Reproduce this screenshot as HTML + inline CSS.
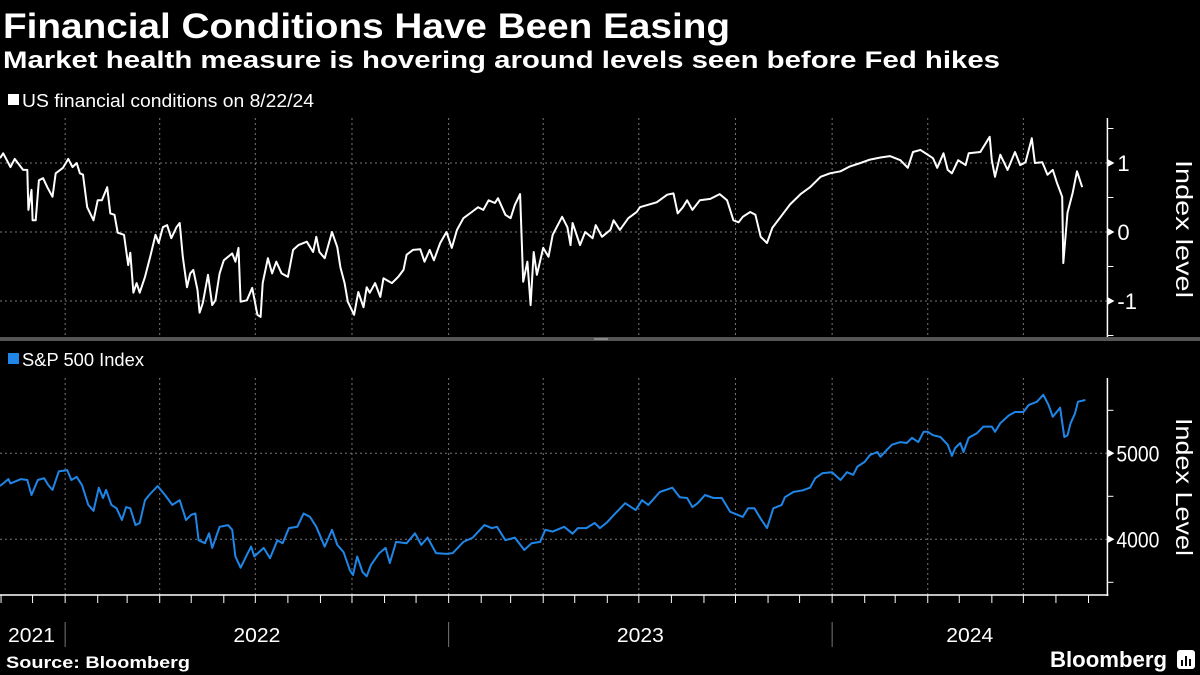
<!DOCTYPE html>
<html><head><meta charset="utf-8"><style>
html,body{margin:0;padding:0;background:#000;width:1200px;height:675px;overflow:hidden}
svg{display:block;font-family:"Liberation Sans",sans-serif}
</style></head><body>
<svg id="chart" width="1200" height="675" viewBox="0 0 1200 675" xmlns="http://www.w3.org/2000/svg">
<rect width="1200" height="675" fill="#000"/>
<text x="3" y="38" fill="#fff" font-size="35" font-weight="bold" textLength="727" lengthAdjust="spacingAndGlyphs">Financial Conditions Have Been Easing</text>
<text x="3" y="68" fill="#fff" font-size="24" font-weight="bold" textLength="997" lengthAdjust="spacingAndGlyphs">Market health measure is hovering around levels seen before Fed hikes</text>
<g>
<rect x="8" y="94" width="11" height="11" fill="#fff"/>
<text x="22" y="107" fill="#fff" font-size="18" textLength="292" lengthAdjust="spacingAndGlyphs">US financial conditions on 8/22/24</text>
</g>
<g>
<rect x="8" y="353" width="11" height="11" fill="#1f86e8"/>
<text x="22" y="366" fill="#fff" font-size="18" textLength="122" lengthAdjust="spacingAndGlyphs">S&amp;P 500 Index</text>
</g>
<rect x="0" y="337" width="1200" height="4" fill="#555"/>
<rect x="594" y="338" width="14" height="2" fill="#888"/>
<g id="grid"></g>
<g id="axes"></g>
<g id="marks"></g>
<text transform="translate(1176,160) rotate(90)" fill="#fff" font-size="23" textLength="138" lengthAdjust="spacingAndGlyphs">Index level</text>
<text transform="translate(1176,418) rotate(90)" fill="#fff" font-size="23" textLength="138" lengthAdjust="spacingAndGlyphs">Index Level</text>
<text x="6" y="668" fill="#fff" font-size="17" font-weight="bold" textLength="184" lengthAdjust="spacingAndGlyphs">Source: Bloomberg</text>
<text x="1050" y="667" fill="#fff" font-size="22" font-weight="bold" textLength="117" lengthAdjust="spacingAndGlyphs">Bloomberg</text>
<g>
<rect x="1177" y="650" width="18" height="19" rx="3" fill="#fff"/>
<rect x="1181" y="660" width="2" height="6" fill="#000"/><rect x="1185" y="656" width="2" height="10" fill="#000"/><rect x="1189" y="659" width="2" height="7" fill="#000"/>
</g>
</svg>
<script>
const startDate = "2021-10-31";
const fciDays = [0,3,10,14,22,26,27,30,31,34,37,41,45,50,53,60,65,69,73,76,79,83,89,93,97,102,105,109,112,118,122,124,127,130,133,138,143,148,151,155,159,163,168,171,174,178,181,184,188,190,193,198,202,205,209,213,221,224,227,229,235,240,245,248,250,255,259,263,268,274,279,284,292,298,301,304,309,316,321,324,328,331,337,341,346,349,352,357,362,365,373,379,384,387,393,400,404,409,413,419,425,430,435,441,449,455,460,465,471,474,481,486,490,495,498,502,505,508,511,517,522,526,535,540,543,545,552,557,564,567,573,581,584,590,598,606,609,616,625,635,641,645,650,654,659,666,676,685,692,698,703,707,714,719,724,730,735,743,752,762,771,781,790,800,809,819,828,838,847,857,864,869,876,888,892,898,902,906,912,919,922,933,942,944,947,952,959,966,971,976,982,985,992,997,1002,1006,1011,1012,1016,1021,1025,1030];
const fciValues = [1.07,1.14,0.94,1.06,0.9,0.9,0.32,0.61,0.17,0.17,0.75,0.78,0.65,0.51,0.85,0.93,1.06,0.94,1.0,0.85,0.83,0.36,0.17,0.46,0.46,0.65,0.27,0.25,-0.01,-0.04,-0.48,-0.3,-0.88,-0.74,-0.88,-0.65,-0.36,-0.04,-0.16,0.07,0.1,-0.09,0.07,0.13,-0.36,-0.8,-0.6,-0.55,-0.84,-1.17,-1.03,-0.62,-1.06,-0.99,-0.6,-0.41,-0.31,-0.43,-0.23,-1.01,-0.99,-0.81,-1.2,-1.23,-0.74,-0.38,-0.6,-0.43,-0.6,-0.65,-0.26,-0.19,-0.14,-0.29,-0.07,-0.29,-0.38,0,-0.22,-0.51,-0.74,-1.01,-1.2,-0.87,-1.09,-0.8,-0.88,-0.74,-0.94,-0.67,-0.74,-0.65,-0.55,-0.33,-0.26,-0.25,-0.43,-0.26,-0.41,-0.16,0,-0.23,0.03,0.2,0.29,0.36,0.32,0.46,0.42,0.49,0.25,0.2,0.39,0.55,-0.72,-0.43,-1.06,-0.29,-0.62,-0.23,-0.36,-0.04,0.22,0.07,-0.19,0.13,-0.19,0,-0.09,0.1,-0.07,0.03,0.17,0.03,0.2,0.29,0.36,0.39,0.43,0.54,0.56,0.27,0.36,0.46,0.32,0.46,0.48,0.55,0.46,0.17,0.14,0.22,0.29,0.25,-0.07,-0.16,0.06,0.22,0.4,0.55,0.65,0.8,0.85,0.88,0.95,1.0,1.05,1.08,1.1,1.04,0.93,1.16,1.19,1.07,0.93,1.14,0.9,0.85,1.04,0.97,1.14,1.16,1.38,1.04,0.8,1.12,0.9,1.16,0.97,1.01,1.36,1.0,1.01,0.83,0.9,0.71,0.51,-0.45,0.28,0.57,0.88,0.65];
const spxDays = [0,8,10,20,26,30,36,42,46,50,56,64,68,73,78,84,89,94,98,101,106,111,116,120,124,129,133,138,142,150,157,164,171,177,182,186,189,195,199,202,209,217,221,224,229,235,239,242,251,257,264,269,275,283,289,295,301,305,309,316,321,327,333,336,340,345,349,353,361,367,371,377,387,395,401,407,415,425,431,441,450,461,468,473,481,490,499,506,514,519,526,537,545,550,558,566,571,578,584,595,605,611,617,628,640,647,654,659,664,671,679,687,695,702,707,712,718,724,730,736,744,747,755,764,771,776,783,792,800,806,812,816,823,828,835,838,844,849,857,863,868,874,879,883,888,895,902,906,909,914,917,922,930,936,944,947,952,960,966,974,979,987,993,998,1002,1009,1013,1016,1019,1023,1026,1033];
const spxValues = [4620,4700,4650,4700,4690,4515,4690,4710,4630,4575,4790,4805,4690,4725,4630,4400,4330,4600,4480,4575,4400,4360,4225,4375,4360,4165,4190,4455,4515,4620,4515,4400,4455,4225,4285,4300,3990,3955,4070,3900,4145,4165,4110,3800,3670,3820,3915,3800,3900,3780,3990,3955,4130,4145,4300,4260,4145,4030,3915,4110,3935,3850,3640,3585,3800,3620,3570,3700,3840,3900,3725,3970,3955,4070,3935,4020,3840,3830,3840,3970,4020,4165,4130,4145,3990,4020,3875,3955,3970,4110,4090,4145,4065,4130,4130,4190,4130,4200,4280,4420,4340,4455,4400,4550,4600,4490,4480,4375,4420,4515,4480,4480,4320,4285,4260,4360,4360,4240,4130,4360,4400,4490,4550,4570,4600,4710,4770,4780,4690,4780,4750,4845,4900,4980,5015,4960,5040,5100,5130,5120,5180,5130,5250,5250,5210,5190,5100,4970,5060,5120,5015,5180,5235,5310,5310,5250,5350,5440,5480,5480,5560,5600,5680,5560,5425,5530,5190,5210,5350,5460,5600,5620];
const yearLabels = ["2021","2022","2023","2024"];
const yearBoundaries = ["2022-01-01","2023-01-01","2024-01-01"];
const fciTicks = [1,0,-1];
const fciMinorTicks = [1.5,0.5,-0.5,-1.5];
const spxTicks = [5000,4000];
const spxMinorTicks = [5500,4500,3500];
const axisEndDate = "2024-09-19";

const NS="http://www.w3.org/2000/svg";
const DAY=86400000, t0=Date.parse(startDate);
const PXD=383.5/365;
function xDay(d){return d*PXD;}
function xDate(s){return xDay((Date.parse(s)-t0)/DAY);}
function yF(v){return 232-v*69;}
function yS(v){return 453.3-(v-5000)*0.086;}
const AX=xDate(axisEndDate);
function mk(tag,attrs,parent){const e=document.createElementNS(NS,tag);for(const k in attrs)e.setAttribute(k,attrs[k]);document.getElementById(parent).appendChild(e);return e;}
for(let y=2021;y<=2024;y++){for(let q=0;q<4;q++){const m=q*3+1;const s=y+"-"+String(m).padStart(2,"0")+"-01";const x=xDate(s);if(x<0||x>AX)continue;
 let g=mk('line',{x1:x,x2:x,y1:118,y2:336,stroke:'#777','stroke-dasharray':'2,3','stroke-width':1},'grid');
 
 
 g=mk('line',{x1:x,x2:x,y1:378,y2:595,stroke:'#777','stroke-dasharray':'2,3','stroke-width':1},'grid');
 
 
}}
fciTicks.forEach(v=>{const y=yF(v);
 let l=mk('line',{x1:0,x2:AX,y1:y,y2:y,stroke:'#777','stroke-dasharray':'2,3'},'grid');
 
 
 let p=mk('path',{d:`M${AX} ${y-4}L${AX+7} ${y}L${AX} ${y+4}Z`,fill:'#fff'},'axes');
 
 
 let t=mk('text',{x:AX+10,y:y+8,fill:'#fff','font-size':22},'axes');t.textContent=v<0?"-"+Math.abs(v):String(v);
 
 
});
fciMinorTicks.forEach(v=>{const y=yF(v);if(y<118||y>336)return;let l=mk('line',{x1:AX,x2:AX+6,y1:y,y2:y,stroke:'#fff'},'axes');
 
 });
spxTicks.forEach(v=>{const y=yS(v);
 let l=mk('line',{x1:0,x2:AX,y1:y,y2:y,stroke:'#777','stroke-dasharray':'2,3'},'grid');
 
 
 let p=mk('path',{d:`M${AX} ${y-4}L${AX+7} ${y}L${AX} ${y+4}Z`,fill:'#fff'},'axes');
 
 
 let t=mk('text',{x:AX+9,y:y+8,fill:'#fff','font-size':22,textLength:43,lengthAdjust:'spacingAndGlyphs'},'axes');t.textContent=String(v);
 
 
});
spxMinorTicks.forEach(v=>{const y=yS(v);let l=mk('line',{x1:AX,x2:AX+6,y1:y,y2:y,stroke:'#fff'},'axes');
 
 });
let a=mk('line',{x1:AX,x2:AX,y1:118,y2:337,stroke:'#fff','stroke-width':1.5},'axes');


a=mk('line',{x1:AX,x2:AX,y1:378,y2:596,stroke:'#fff','stroke-width':1.5},'axes');


a=mk('line',{x1:0,x2:AX+1,y1:595,y2:595,stroke:'#fff','stroke-width':1.5},'axes');


for(let y=2021;y<=2024;y++){for(let m=1;m<=12;m++){const x=xDate(y+"-"+String(m).padStart(2,"0")+"-01");if(x<0||x>AX)continue;
 let l=mk('line',{x1:x,x2:x,y1:595,y2:603,stroke:'#fff'},'axes');
 
 }}
yearBoundaries.forEach(s=>{const x=xDate(s);let l=mk('line',{x1:x,x2:x,y1:622,y2:647,stroke:'#777'},'axes');
 
 });
const yb=[0].concat(yearBoundaries.map(xDate)).concat([AX]);
yearLabels.forEach((lab,i)=>{let cx=(yb[i]+yb[i+1])/2;let t;
 if(i===0){t=mk('text',{x:8,y:642,fill:'#fff','font-size':20,textLength:47,lengthAdjust:'spacingAndGlyphs'},'axes');}
 else{t=mk('text',{x:cx,y:642,fill:'#fff','font-size':20,'text-anchor':'middle',textLength:47,lengthAdjust:'spacingAndGlyphs'},'axes');}
 t.textContent=lab;
 
 });
let d=fciDays.map((dd,i)=>(i?'L':'M')+xDay(dd).toFixed(1)+' '+yF(fciValues[i]).toFixed(1)).join('');
let s=mk('path',{d:d,fill:'none',stroke:'#fff','stroke-width':2,'stroke-linejoin':'round'},'marks');


d=spxDays.map((dd,i)=>(i?'L':'M')+xDay(dd).toFixed(1)+' '+yS(spxValues[i]).toFixed(1)).join('');
s=mk('path',{d:d,fill:'none',stroke:'#1f86e8','stroke-width':2,'stroke-linejoin':'round'},'marks');


</script>
</body></html>
